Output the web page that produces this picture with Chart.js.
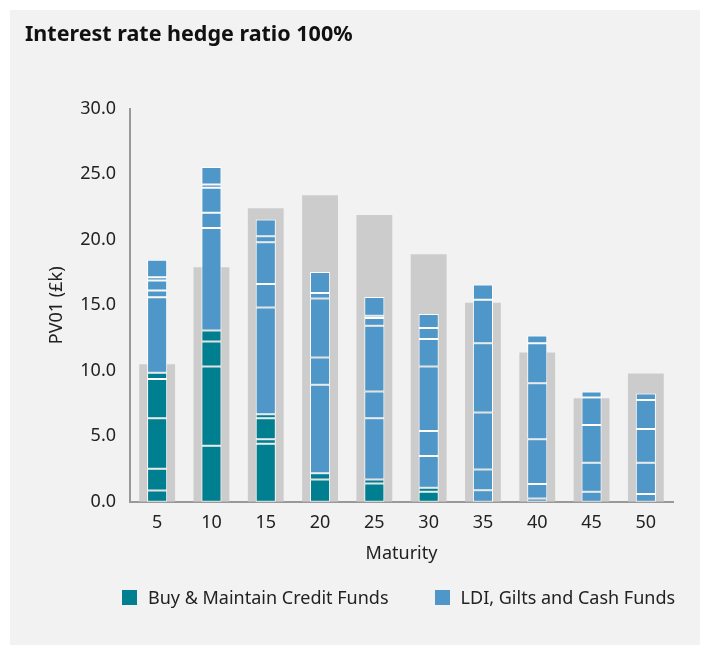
<!DOCTYPE html>
<html><head><meta charset="utf-8">
<script src="https://cdn.jsdelivr.net/npm/chart.js@4.4.1/dist/chart.umd.min.js"></script>
<style>
html,body{margin:0;padding:0;background:#ffffff;width:708px;height:655px;overflow:hidden;font-family:"Noto Sans",sans-serif;}
#panel{position:absolute;left:10px;top:10px;width:690px;height:635px;background:#f2f2f2;}
#chart{position:absolute;left:0;top:0;}
#legend{position:absolute;top:575px;left:112px;display:flex;gap:46px;font-size:18px;line-height:24px;color:#222;}
.item{display:flex;align-items:center;}
.sw{width:15px;height:15px;margin-right:11px;}
</style></head><body>
<div id="panel"><canvas id="chart" width="690" height="635"></canvas>
<div id="legend"></div></div>
<script>
const categories = ['5','10','15','20','25','30','35','40','45','50'];
// Liability PV01 (grey background bars)
const liabilities = [10.5, 17.9, 22.4, 23.4, 21.9, 18.9, 15.2, 11.4, 7.9, 9.8];
// Buy & Maintain Credit Funds segments (bottom to top)
const credit1 = [0.87, 4.28, 4.44, 1.71, 1.40, 0.77, null, null, null, null];
const credit2 = [1.65, 6.05, 0.33, 0.46, 0.31, 0.30, null, null, null, null];
const credit3 = [3.86, 1.91, 1.61, null, null, null, null, null, null, null];
const credit4 = [3.00, 0.84, 0.30, null, null, null, null, null, null, null];
const credit5 = [0.48, null, null, null, null, null, null, null, null, null];
// LDI, Gilts and Cash Funds segments (bottom to top)
const ldi1 = [5.76, 7.83, 8.16, 6.76, 4.67, 2.43, 0.89, 0.25, 0.77, 0.59];
const ldi2 = [0.51, 1.15, 1.79, 2.09, 2.04, 1.91, 1.58, 1.10, 2.21, 2.39];
const ldi3 = [0.76, 1.91, 3.19, 4.49, 5.02, 4.92, 4.34, 3.42, 2.89, 2.58];
const ldi4 = [0.26, 0.26, 0.46, 0.43, 0.59, 2.09, 5.30, 4.28, 2.09, 2.22];
const ldi5 = [1.33, 1.32, 1.27, 1.61, 0.18, 0.84, 3.32, 3.06, 0.46, 0.48];
const ldi6 = [null, null, null, null, 1.42, 1.07, 1.15, 0.59, null, null];
const yTicks = [0, 5, 10, 15, 20, 25, 30];

const TEAL = '#007f91', BLUE = '#4e97c8', GREY = '#cccccc';
const FONT = '"Noto Sans", sans-serif';

function seg(label, data, color) {
  return { label, data, backgroundColor: color, borderColor: '#ffffff', borderWidth: 1,
    borderSkipped: false, stack: 'assets', grouped: false, barPercentage: 0.37,
    categoryPercentage: 1, order: 1 };
}
const datasets = [
  { label: 'Liabilities', data: liabilities, backgroundColor: GREY, borderWidth: 0,
    stack: 'liab', grouped: false, barPercentage: 0.66, categoryPercentage: 1, order: 2 },
  seg('Buy & Maintain Credit Funds', credit1, TEAL),
  seg('Buy & Maintain Credit Funds', credit2, TEAL),
  seg('Buy & Maintain Credit Funds', credit3, TEAL),
  seg('Buy & Maintain Credit Funds', credit4, TEAL),
  seg('Buy & Maintain Credit Funds', credit5, TEAL),
  seg('LDI, Gilts and Cash Funds', ldi1, BLUE),
  seg('LDI, Gilts and Cash Funds', ldi2, BLUE),
  seg('LDI, Gilts and Cash Funds', ldi3, BLUE),
  seg('LDI, Gilts and Cash Funds', ldi4, BLUE),
  seg('LDI, Gilts and Cash Funds', ldi5, BLUE),
  seg('LDI, Gilts and Cash Funds', ldi6, BLUE)
];

const legendItems = [['Buy & Maintain Credit Funds', TEAL], ['LDI, Gilts and Cash Funds', BLUE]];
document.getElementById('legend').innerHTML = legendItems.map(([t, c]) =>
  `<div class="item"><span class="sw" style="background:${c}"></span><span>${t}</span></div>`).join('');

new Chart(document.getElementById('chart'), {
  type: 'bar',
  data: { labels: categories, datasets },
  options: {
    responsive: false, animation: false,
    layout: { padding: { left: 15, right: 27, top: 0, bottom: 80 } },
    plugins: {
      legend: { display: false },
      tooltip: { enabled: false },
      title: { display: true, text: 'Interest rate hedge ratio 100%', align: 'start', color: '#111',
        font: { family: FONT, size: 21.5, weight: 'bold' }, padding: { top: 12, bottom: 61 } }
    },
    scales: {
      x: { stacked: true, z: 1,
        grid: { display: false, drawTicks: false },
        border: { display: true, color: '#999999', width: 2 },
        ticks: { color: '#222', font: { family: FONT, size: 18 }, padding: 10 },
        title: { display: true, text: 'Maturity', color: '#222', font: { family: FONT, size: 18 }, padding: { top: 0, bottom: 0 } } },
      y: { stacked: true, min: 0, max: 30, z: 1,
        afterBuildTicks: (s) => { s.ticks = yTicks.map(v => ({ value: v })); },
        afterFit: (s) => { s.width = 105; },
        grid: { display: false, drawTicks: false },
        border: { display: true, color: '#999999', width: 2 },
        ticks: { color: '#222', font: { family: FONT, size: 18 }, padding: 14, callback: (v) => Number(v).toFixed(1) },
        title: { display: true, text: 'PV01 (£k)', color: '#222', font: { family: FONT, size: 18 }, padding: { top: 21, bottom: 0 } } }
    }
  }
});
</script>
</body></html>
